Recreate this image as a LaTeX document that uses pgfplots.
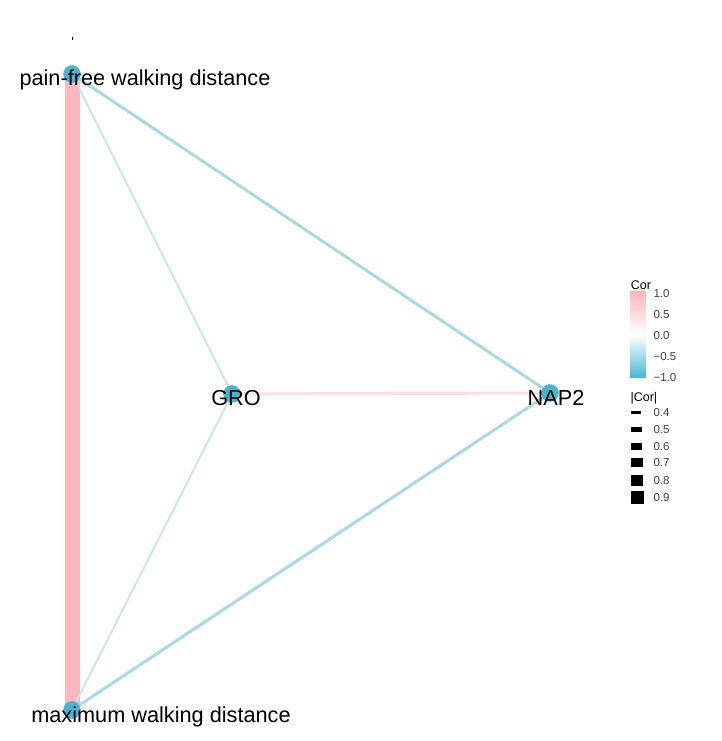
\documentclass[border=0pt]{standalone}
\usepackage{pgfplots}
\pgfplotsset{compat=1.18}
\usepackage{fontspec}
\setmainfont{Liberation Sans}
\definecolor{corpos}{RGB}{255,182,188}
\definecolor{corposlight}{RGB}{252,222,224}
\definecolor{corneg}{RGB}{172,216,229}
\definecolor{cornegl}{RGB}{196,229,237}
\definecolor{nodeblue}{RGB}{72,180,207}
\definecolor{barblue}{RGB}{70,182,208}
\begin{document}
\begin{tikzpicture}
\begin{axis}[
  hide axis, scale only axis,
  width=722pt, height=741pt,
  xmin=0, xmax=722, ymin=0, ymax=741,
  clip=false,
]
% page frame
\addplot[draw=none] coordinates {(0,0) (722,741)};
% edges (pixel coords, y flipped)
\addplot[corpos, line width=15pt] coordinates {(72,667) (72,31)};
\addplot[cornegl, line width=1.8pt] coordinates {(72,667) (232,347)};
\addplot[cornegl, line width=1.8pt] coordinates {(232,347) (72,31)};
\addplot[corneg, line width=3pt] coordinates {(72,667) (550,348)};
\addplot[corneg, line width=3pt] coordinates {(72,31) (550,348)};
\addplot[corposlight, line width=3pt] coordinates {(232,347) (550,348)};
% nodes
\addplot[only marks, mark=*, mark size=8.5pt, color=nodeblue] coordinates {
  (72,667) (232,347) (550,348) (72,31)};
% label anchors, drawn after the axis so text sits on top
\coordinate (lpain) at (axis cs:145,661);
\coordinate (lgro)  at (axis cs:236,343);
\coordinate (lnap)  at (axis cs:556,343);
\coordinate (lmax)  at (axis cs:161,24);
\draw[black, line width=0.8pt] (axis cs:72,704) -- (axis cs:72,701);
% colour legend
\node[font=\fontsize{12.5}{14}\selectfont] at (axis cs:641,456) {Cor};
\shade[top color=corpos, bottom color=barblue, middle color=white]
  (axis cs:630,363) rectangle (axis cs:646,449);
\begin{scope}[every node/.style={font=\fontsize{11.5}{13}\selectfont, anchor=west, text=black!75}]
\node at (axis cs:650,447) {1.0};
\node at (axis cs:650,426) {0.5};
\node at (axis cs:650,405) {0.0};
\node at (axis cs:650,384) {−0.5};
\node at (axis cs:650,363) {−1.0};
\end{scope}
% width legend
\node[font=\fontsize{12.5}{14}\selectfont, anchor=west] at (axis cs:627,343) {|Cor|};
\fill[black] (axis cs:631,326.5) rectangle (axis cs:641,329.5);
\fill[black] (axis cs:631,308.5) rectangle (axis cs:642,313.5);
\fill[black] (axis cs:631,290.5) rectangle (axis cs:642,297.5);
\fill[black] (axis cs:631,273.5) rectangle (axis cs:643,282.5);
\fill[black] (axis cs:631,254.5) rectangle (axis cs:643,265.5);
\fill[black] (axis cs:631,236.5) rectangle (axis cs:644,249.5);
\begin{scope}[every node/.style={font=\fontsize{11.5}{13}\selectfont, anchor=west, text=black!75}]
\node at (axis cs:650,328) {0.4};
\node at (axis cs:650,311) {0.5};
\node at (axis cs:650,294) {0.6};
\node at (axis cs:650,278) {0.7};
\node at (axis cs:650,260) {0.8};
\node at (axis cs:650,243) {0.9};
\end{scope}
\end{axis}
\begin{scope}[every node/.style={font=\fontsize{21.7}{24}\selectfont, text=black}]
\node at (lpain) {pain-free walking distance};
\node at (lgro) {GRO};
\node at (lnap) {NAP2};
\node at (lmax) {maximum walking distance};
\end{scope}
\end{tikzpicture}
\end{document}
